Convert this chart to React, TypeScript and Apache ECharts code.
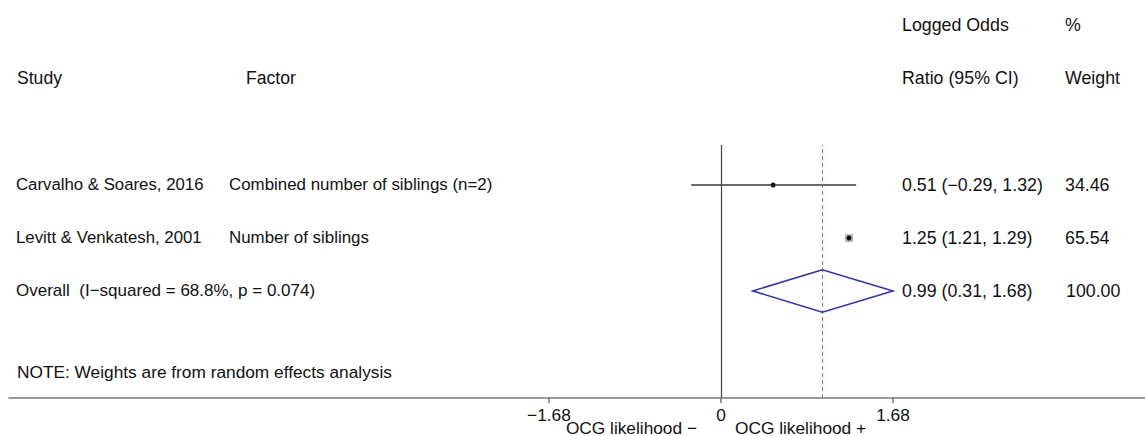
import React, { useEffect, useRef } from "react";
import * as echarts from "echarts";

// ---- data ----
const studies = ["Carvalho & Soares, 2016", "Levitt & Venkatesh, 2001"];
const factors = ["Combined number of siblings (n=2)", "Number of siblings"];
const estimates = [0.51, 1.25];
const lowerCI = [-0.29, 1.21];
const upperCI = [1.32, 1.29];
const weights = ["34.46", "65.54"];
const overallEstimate = 0.99;
const overallLower = 0.31;
const overallUpper = 1.68;
const overallWeight = "100.00";
const overallLabel = "Overall  (I\u2212squared = 68.8%, p = 0.074)";
const noteText = "NOTE: Weights are from random effects analysis";
const tickValues = [-1.68, 0, 1.68];
const rowY = [3, 2]; // row positions on the y scale
const overallY = 1;

const FONT = '"Liberation Sans", Arial, Helvetica, sans-serif';
const TXT = "#111";

const fmt = (v: number) => (v < 0 ? "\u2212" + Math.abs(v).toFixed(2) : v.toFixed(2));
const ciText = (e: number, l: number, h: number) => `${fmt(e)} (${fmt(l)}, ${fmt(h)})`;

export default function App() {
  const ref = useRef<HTMLDivElement>(null);

  useEffect(() => {
    if (!ref.current) return;
    const chart = echarts.init(ref.current, undefined, { renderer: "svg" });

    const txt = (text: string, x: number, y: number, size = 17.3, align = "left") => ({
      type: "text",
      x,
      y,
      silent: true,
      style: {
        text,
        font: `${size}px ${FONT}`,
        fill: TXT,
        align,
        verticalAlign: "middle",
        textAlign: align,
        textVerticalAlign: "middle",
      },
    });

    const rowPx = (v: number) => 398 - (v - -1.02) * 53; // matches y axis range below

    const graphics: any[] = [
      txt("Logged Odds", 902, 25, 17.8),
      txt("%", 1065, 25, 17.8),
      txt("Study", 17, 78, 17.6),
      txt("Factor", 246, 78, 17.6),
      txt("Ratio (95% CI)", 902, 78, 17.8),
      txt("Weight", 1065, 78, 17.8),
    ];
    studies.forEach((s, i) => {
      const y = rowPx(rowY[i]);
      graphics.push(txt(s, 16, y, 16.8));
      graphics.push(txt(factors[i], 229, y, 16.9));
      graphics.push(txt(ciText(estimates[i], lowerCI[i], upperCI[i]), 902, y, 17.8));
      graphics.push(txt(weights[i], 1065, y, 17.8));
    });
    const oy = rowPx(overallY);
    graphics.push(txt(overallLabel, 16, oy, 17));
    graphics.push(txt(ciText(overallEstimate, overallLower, overallUpper), 902, oy, 17.8));
    graphics.push(txt(overallWeight, 1066, oy, 17.8));
    graphics.push(txt(noteText, 17, 372, 17.3));
    graphics.push(txt("OCG likelihood \u2212", 697, 428, 17.3, "right"));
    graphics.push(txt("OCG likelihood +", 735, 428, 17.3, "left"));

    const ciData = studies.map((_, i) => [lowerCI[i], upperCI[i], rowY[i]]);

    chart.setOption({
      animation: false,
      grid: { left: 9, right: 0, top: 145, bottom: 38 },
      xAxis: {
        type: "value",
        min: -6.953,
        max: 4.141,
        axisLine: { show: true, onZero: false, lineStyle: { color: "#7a7a7a", width: 1.5 } },
        axisTick: {
          show: true,
          customValues: tickValues,
          length: 5,
          lineStyle: { color: "#7a7a7a", width: 1.5 },
        },
        axisLabel: {
          show: true,
          customValues: tickValues,
          margin: 8,
          color: TXT,
          fontSize: 17.3,
          fontFamily: FONT,
          formatter: (v: number) => (v === 0 ? "0" : fmt(v)),
        },
        splitLine: { show: false },
      },
      yAxis: {
        type: "value",
        min: -1.02,
        max: 3.755,
        show: false,
        splitLine: { show: false },
      },
      graphic: graphics,
      series: [
        {
          type: "custom",
          data: ciData,
          renderItem: (params: any, api: any) => {
            const p1 = api.coord([api.value(0), api.value(2)]);
            const p2 = api.coord([api.value(1), api.value(2)]);
            return {
              type: "line",
              shape: { x1: p1[0], y1: p1[1], x2: p2[0], y2: p2[1] },
              style: { stroke: "#3a3a3a", lineWidth: 1.5 },
            };
          },
          markLine: {
            silent: true,
            symbol: "none",
            label: { show: false },
            data: [
              { xAxis: 0, lineStyle: { color: "#444", width: 1.2, type: "solid" } },
              {
                xAxis: overallEstimate,
                lineStyle: { color: "#c9606a", width: 1, type: [4, 3] },
              },
            ],
          },
          z: 2,
        },
        {
          type: "scatter",
          data: studies.map((_, i) => [estimates[i], rowY[i]]),
          symbol: "rect",
          symbolSize: (_v: any, p: any) => (p.dataIndex === 1 ? 8 : 0),
          itemStyle: { color: "#b8b8b8", opacity: 1 },
          z: 3,
        },
        {
          type: "scatter",
          data: studies.map((_, i) => [estimates[i], rowY[i]]),
          symbol: "circle",
          symbolSize: 5,
          itemStyle: { color: "#111", opacity: 1 },
          z: 4,
        },
        {
          type: "custom",
          data: [[overallLower, overallEstimate, overallUpper, overallY]],
          renderItem: (params: any, api: any) => {
            const y = api.value(3);
            const h = 0.4;
            const pts = [
              api.coord([api.value(0), y]),
              api.coord([api.value(1), y + h]),
              api.coord([api.value(2), y]),
              api.coord([api.value(1), y - h]),
            ];
            return {
              type: "polygon",
              shape: { points: pts },
              style: { fill: "none", stroke: "#2f349c", lineWidth: 1.5 },
            };
          },
          z: 5,
        },
      ],
    });

    return () => chart.dispose();
  }, []);

  return (
    <div
      ref={ref}
      style={{ position: "fixed", left: 0, top: 0, width: 1145, height: 436, background: "#fff" }}
    />
  );
}
